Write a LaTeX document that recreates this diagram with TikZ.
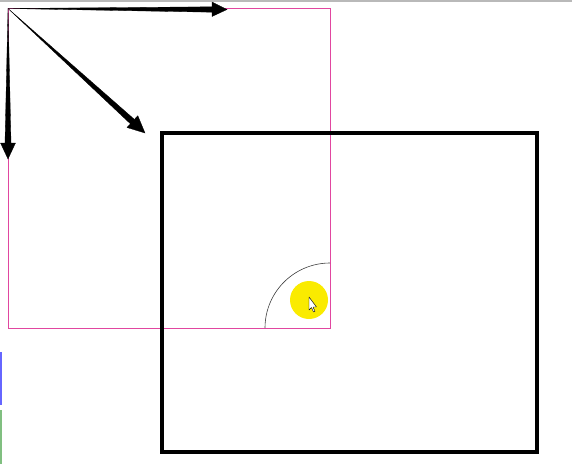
\documentclass[tikz,border=0pt]{standalone}
\usepackage{tikz}
\usetikzlibrary{calc}
\definecolor{frameMag}{RGB}{225,70,160}
\definecolor{spotYel}{RGB}{250,235,0}
\definecolor{edgeGray}{RGB}{185,185,185}
\tikzset{
  oldframe/.style={draw=frameMag, line width=0.9pt},
  newframe/.style={draw=black, line width=3pt},
  wedge/.style={fill=black, draw=black, line width=0.3pt, line join=miter},
  arcln/.style={draw=black!75, line width=0.6pt},
}
\begin{document}
\begin{tikzpicture}[x=0.35mm, y=-0.35mm]
  \useasboundingbox (0,0) rectangle (572,464);
  % screenshot edges
  \draw[edgeGray, line width=1pt] (0,1) -- (572,1);
  \fill[blue!60] (0,352) rectangle (1.8,405);
  \fill[green!50!black!50] (0,410) rectangle (1.8,464);
  % original square (before scaling)
  \coordinate (O) at (8,8.5);
  \draw[oldframe] (O) rectangle (330,328);
  % corner arc and pointer spot
  \coordinate (C) at (330,328);
  \draw[arcln] (265,328) arc[start angle=180, end angle=270, radius=65];
  \fill[spotYel] (309,300) circle (19);
  \draw[fill=white, line width=0.4pt, line join=round]
    (309,297) -- (309,310) -- (311.5,307.5) -- (313.5,312) -- (315,311.3)
    -- (313,307) -- (316.5,307) -- cycle;
  % tapered arrows from the corner
  \fill[wedge] (O) -- (212,6.8) -- (212,2) -- (227,9.5) -- (212,16.5) -- (212,12.2) -- cycle;
  \fill[wedge] (O) -- (5,143) -- (0.5,143) -- (8,159) -- (15.5,143) -- (11,143) -- cycle;
  \fill[wedge] (O) -- (130.4,123.8) -- (127,127.5) -- (145,133) -- (137.8,115.7) -- (134.4,119.4) -- cycle;
  % scaled square
  \draw[newframe] (162,133) rectangle (537,452);
\end{tikzpicture}
\end{document}
